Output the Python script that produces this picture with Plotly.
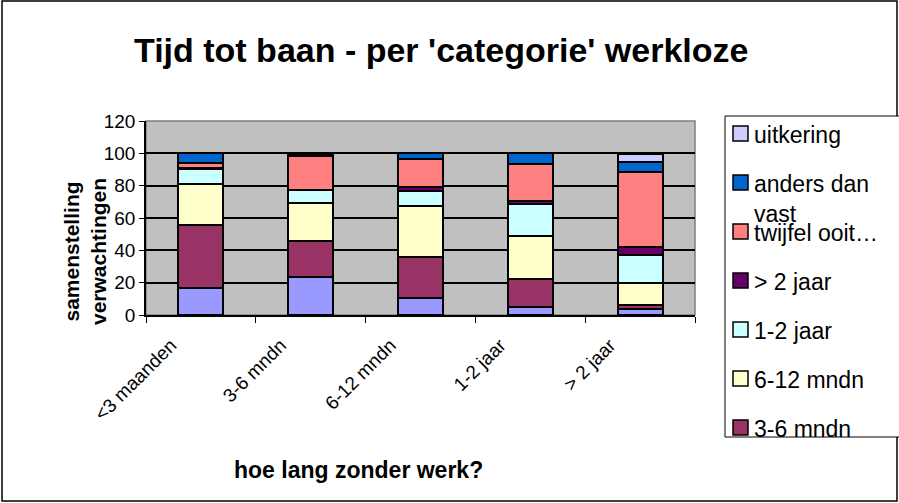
import plotly.graph_objects as go

# categories on the x axis
categories = ["<3 maanden", "3-6 mndn", "6-12 mndn", "1-2 jaar", "> 2 jaar"]

# series, bottom of the stack first
series_names = [
    "<3 maanden",
    "3-6 mndn",
    "6-12 mndn",
    "1-2 jaar",
    "> 2 jaar",
    "twijfel ooit…",
    "anders dan<br>vast",
    "uitkering",
]
lt3_maanden = [16.6, 23.2, 10.4, 5.2, 3.7]
m3_6 = [39.0, 22.4, 25.7, 17.2, 2.3]
m6_12 = [25.7, 23.5, 31.3, 26.6, 13.5]
j1_2 = [9.2, 8.5, 9.2, 19.9, 17.6]
gt2_jaar = [0.4, 0.0, 2.5, 1.4, 4.8]
twijfel = [3.3, 20.5, 17.2, 23.3, 46.5]
anders_dan_vast = [5.8, 1.5, 3.9, 6.4, 6.4]
uitkering = [0.0, 0.0, 0.0, 0.0, 4.8]

series_values = [lt3_maanden, m3_6, m6_12, j1_2, gt2_jaar, twijfel, anders_dan_vast, uitkering]
series_colors = ["#9999FF", "#993366", "#FFFFCC", "#CCFFFF", "#660066", "#FF8080", "#0066CC", "#CCCCFF"]

W, H = 899, 503
PL, PR, PT, PB = 146, 695, 121, 315  # plot area in pixels


def px_x(x):
    return (x - PL) / (PR - PL)


def px_y(y):
    return (PB - y) / (PB - PT)


FONT = "Liberation Sans, Arial, sans-serif"

fig = go.Figure()
for name, vals, col in zip(series_names, series_values, series_colors):
    fig.add_trace(go.Bar(
        x=categories, y=vals, name=name,
        marker=dict(color=col, line=dict(color="black", width=2)),
        showlegend=False,
    ))

shapes = [
    # outer frame
    dict(type="rect", xref="paper", yref="paper",
         x0=px_x(2), x1=px_x(897), y0=px_y(501), y1=px_y(1),
         line=dict(color="black", width=1.5), fillcolor="rgba(0,0,0,0)", layer="below"),
    # plot border
    dict(type="rect", xref="paper", yref="paper", x0=0, x1=1, y0=0, y1=1,
         line=dict(color="#808080", width=1.5), fillcolor="rgba(0,0,0,0)", layer="below"),
    # legend box
    dict(type="rect", xref="paper", yref="paper",
         x0=px_x(725), x1=px_x(910), y0=px_y(437), y1=px_y(116),
         line=dict(color="black", width=1), fillcolor="white"),
]

annotations = [
    dict(text="<b>Tijd tot baan - per 'categorie' werkloze</b>", xref="paper", yref="paper",
         x=px_x(441), y=px_y(50), showarrow=False, xanchor="center", yanchor="middle",
         font=dict(size=34, color="black", family=FONT)),
    dict(text="<b>hoe lang zonder werk?</b>", xref="paper", yref="paper",
         x=px_x(358), y=px_y(470), showarrow=False, xanchor="center", yanchor="middle",
         font=dict(size=23, color="black", family=FONT)),
    dict(text="<b>samenstelling<br>verwachtingen</b>", xref="paper", yref="paper",
         x=px_x(85), y=px_y(252), showarrow=False, xanchor="center", yanchor="middle",
         textangle=-90, font=dict(size=21, color="black", family=FONT)),
]

# hand-drawn legend, top entry = top of stack; entries past the box bottom are cut off
legend_top, legend_step = 134, 49
for i, (name, col) in enumerate(zip(reversed(series_names), reversed(series_colors))):
    cy = legend_top + i * legend_step
    if cy > 437:
        continue
    shapes.append(dict(type="rect", xref="paper", yref="paper",
                       x0=px_x(733), x1=px_x(748), y0=px_y(cy + 7), y1=px_y(cy - 8),
                       line=dict(color="black", width=1.5), fillcolor=col))
    annotations.append(dict(text=name, xref="paper", yref="paper",
                            x=px_x(752), y=px_y(cy - 14), showarrow=False,
                            xanchor="left", yanchor="top", align="left",
                            font=dict(size=23, color="black", family=FONT)))

fig.update_layout(
    width=W, height=H,
    margin=dict(l=PL, r=W - PR, t=PT, b=H - PB, autoexpand=False),
    barmode="stack",
    bargap=0.59,
    paper_bgcolor="white",
    plot_bgcolor="#C0C0C0",
    font=dict(family=FONT, color="black"),
    showlegend=False,
    shapes=shapes,
    annotations=annotations,
)
fig.update_xaxes(
    showgrid=False, showline=True, linecolor="black", linewidth=1.5,
    ticks="outside", tickson="boundaries", ticklen=6, tickcolor="black",
    tickangle=-45, ticklabelshift=-30, ticklabelstandoff=10,
    tickfont=dict(size=19, family=FONT, color="black"),
)
fig.update_yaxes(
    range=[0, 120], dtick=20, showgrid=True, gridcolor="black", gridwidth=1.5,
    showline=True, linecolor="black", linewidth=1.5,
    ticks="outside", ticklen=5, tickcolor="black", zeroline=False,
    tickfont=dict(size=19, family=FONT, color="black"),
)

fig.write_html("out.html", config={"displayModeBar": False},
               post_script="document.body.style.margin='0';")
